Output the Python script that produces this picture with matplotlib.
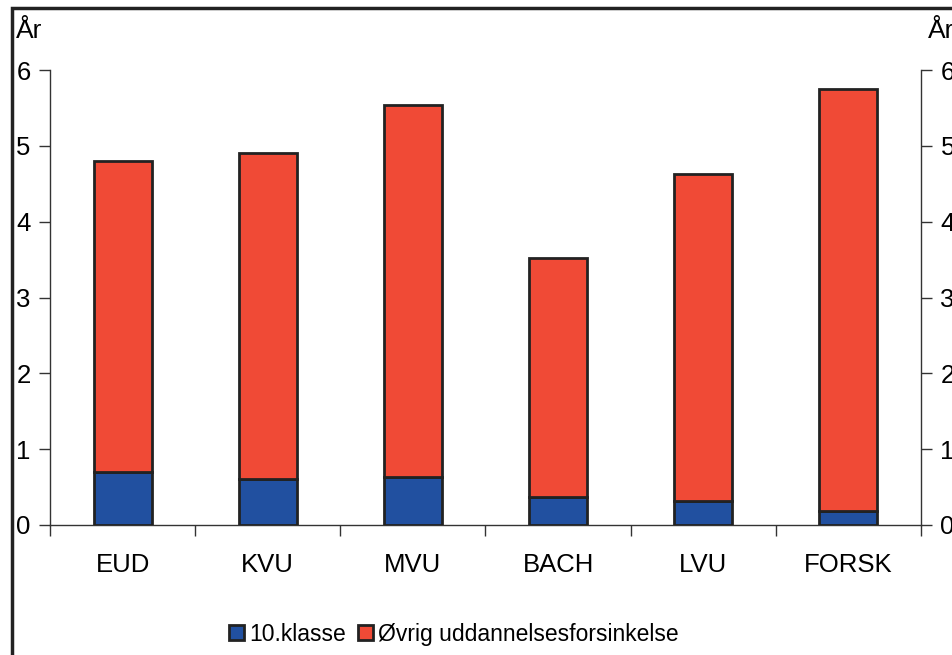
import matplotlib.pyplot as plt
from matplotlib.patches import Rectangle

plt.rcParams['font.family'] = ['Liberation Sans', 'DejaVu Sans']

categories = ['EUD', 'KVU', 'MVU', 'BACH', 'LVU', 'FORSK']
klasse10 = [0.70, 0.61, 0.63, 0.37, 0.32, 0.18]
total = [4.80, 4.91, 5.54, 3.52, 4.63, 5.75]
ovrig = [t - k for t, k in zip(total, klasse10)]
legend_labels = ['10.klasse', 'Øvrig uddannelsesforsinkelse']

blue = '#2150A0'
red = '#F04A36'
edge = '#222222'

W, H = 953, 655
fig = plt.figure(figsize=(W / 100, H / 100), dpi=100)
ax = fig.add_axes([50/W, 1 - 525/H, 871/W, 455/H])

x = range(len(categories))
ax.bar(x, klasse10, width=0.4, color=blue, edgecolor=edge, linewidth=2, zorder=3)
ax.bar(x, ovrig, bottom=klasse10, width=0.4, color=red, edgecolor=edge, linewidth=2, zorder=3)

ax.set_xlim(-0.5, len(categories) - 0.5)
ax.set_ylim(0, 6)
ax.set_yticks(range(0, 7))
ax.set_xticks([i - 0.5 for i in range(len(categories) + 1)])
ax.set_xticklabels([])
ax.set_xticks(list(x), minor=True)
ax.set_xticklabels(categories, minor=True, fontsize=18.5)
ax.tick_params(axis='x', which='minor', length=0, pad=20)
ax.tick_params(axis='x', which='major', direction='out', length=8, width=1, color='#333333')
ax.tick_params(axis='y', direction='out', length=8, width=1, color='#333333',
               labelsize=18.5, pad=6, right=True, labelright=True)

ax.spines['top'].set_visible(False)
for side in ['left', 'right', 'bottom']:
    ax.spines[side].set_color('#333333')
    ax.spines[side].set_linewidth(1)

fig.text(16/W, 1 - 31/H, 'År', fontsize=19, va='center', ha='left')
fig.text(928/W, 1 - 31/H, 'År', fontsize=19, va='center', ha='left')

# legend drawn by hand so both labels share one baseline
legend_x = [229, 358]
for lx, col, lab in zip(legend_x, [blue, red], legend_labels):
    fig.patches.append(Rectangle((lx/W, 1 - 640/H), 15/W, 15/H, transform=fig.transFigure,
                                 facecolor=col, edgecolor=edge, linewidth=2))
    fig.text((lx + 20)/W, 1 - 641/H, lab, fontsize=16.5, va='baseline', ha='left')

fig.patches.append(Rectangle((12/W, -0.2), 1.2, 1 - 8/H + 0.2,
                             transform=fig.transFigure, fill=False,
                             edgecolor='#222222', linewidth=2.5, clip_on=False))

fig.savefig('out.png', dpi=100)
